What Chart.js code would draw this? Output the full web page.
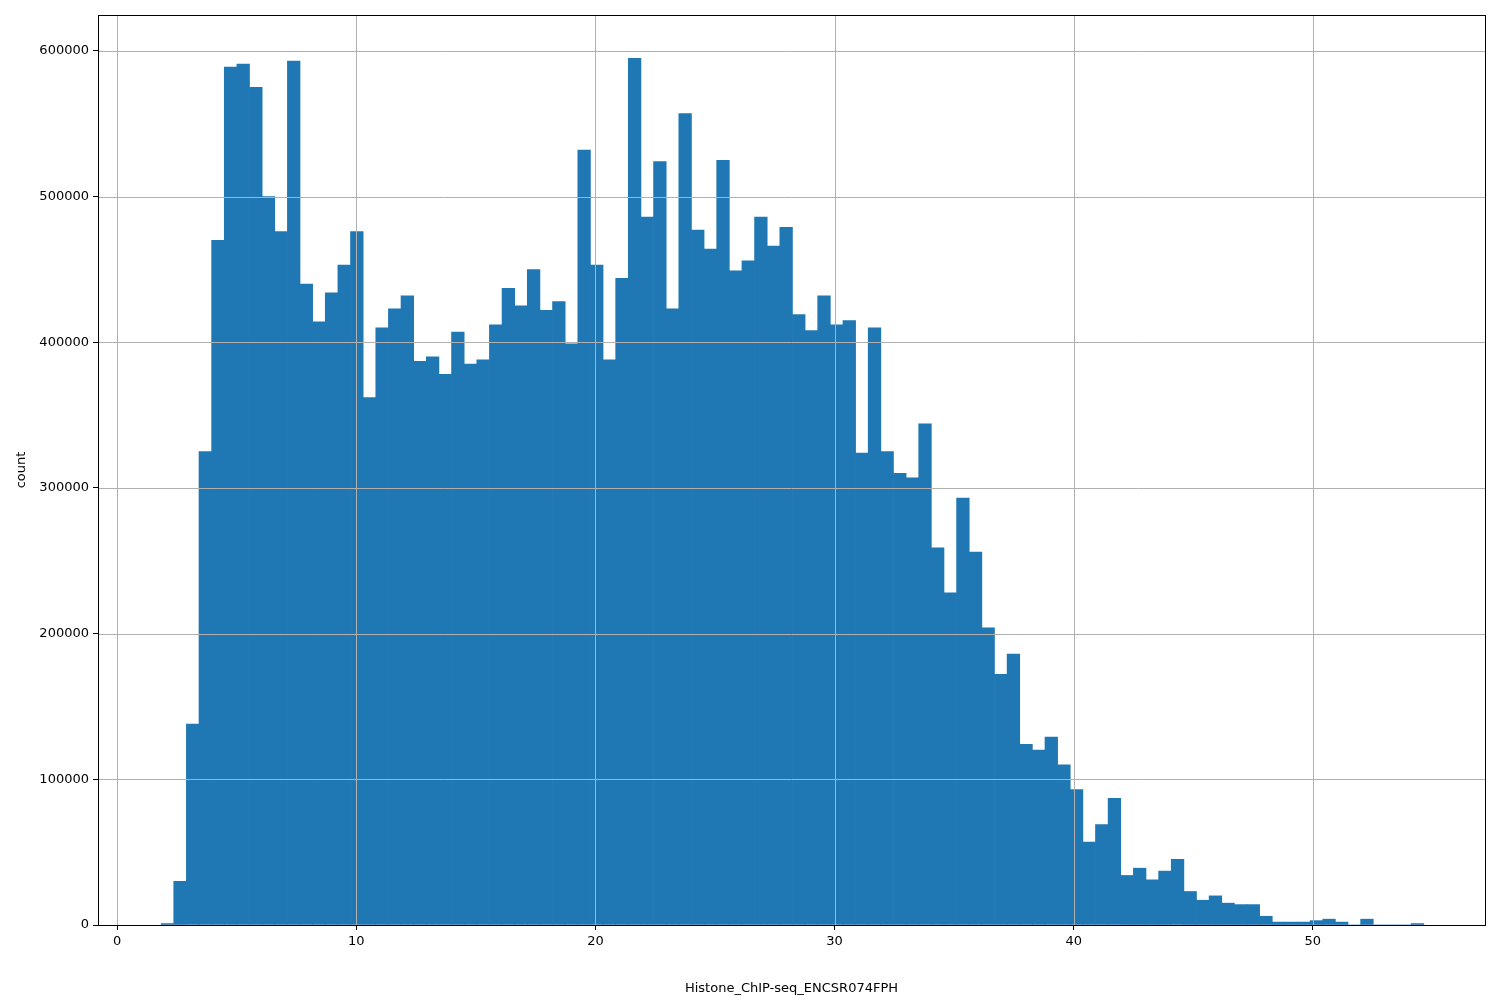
<!DOCTYPE html>
<html><head><meta charset="utf-8">
<script src="https://cdn.jsdelivr.net/npm/chart.js@4.4.1/dist/chart.umd.min.js"></script>
<style>html,body{margin:0;padding:0;background:#fff}#w{width:1500px;height:1000px}</style>
</head><body><div id="w"><canvas id="c"></canvas></div>
<script>
const binStart = 1.84;
const binWidth = 0.528;
const counts = [1000,30000,138000,325000,470000,589000,591000,575000,500000,476000,
593000,440000,414000,434000,453000,476000,362000,410000,423000,432000,
387000,390000,378000,407000,385000,388000,412000,437000,425000,450000,
422000,428000,399000,532000,453000,388000,444000,595000,486000,524000,
423000,557000,477000,464000,525000,449000,456000,486000,466000,479000,
419000,408000,432000,412000,415000,324000,410000,325000,310000,307000,
344000,259000,228000,293000,256000,204000,172000,186000,124000,120000,
129000,110000,93000,57000,69000,87000,34000,39000,31000,37000,
45000,23000,17000,20000,15000,14000,14000,6000,2000,2000,
2000,3000,4000,2000,0,4000,0,0,0,1000];
const xTicks = [0,10,20,30,40,50];
const yTicks = [0,100000,200000,300000,400000,500000,600000];
const xLabel = 'Histone_ChIP-seq_ENCSR074FPH';
const yLabel = 'count';
const data = counts.map((v,i)=>({x: binStart + binWidth*(i+0.5), y: v}));
const frame = {id:'frame', afterDatasetsDraw(ch){
  const a=ch.chartArea,c=ch.ctx,xs=ch.scales.x,ys=ch.scales.y;
  c.save();c.strokeStyle='#b0b0b0';c.lineWidth=1;c.beginPath();
  xTicks.forEach(v=>{const p=Math.round(xs.getPixelForValue(v))+0.5;c.moveTo(p,a.top);c.lineTo(p,a.bottom);});
  yTicks.forEach(v=>{const p=Math.round(ys.getPixelForValue(v))+0.5;c.moveTo(a.left,p);c.lineTo(a.right,p);});
  c.stroke();
  c.strokeStyle='#000';c.strokeRect(a.left+0.5,a.top+0.5,a.right-a.left,a.bottom-a.top);c.restore();}};
Chart.defaults.font.family = 'DejaVu Sans';
Chart.defaults.font.size = 13;
Chart.defaults.color = '#000';
new Chart(document.getElementById('c'), {
  type: 'bar',
  data: {datasets: [{data, backgroundColor: '#1f77b4', barPercentage: 1, categoryPercentage: 1, borderWidth: 0}]},
  options: {
    responsive: true, maintainAspectRatio: false, animation: false,
    layout: {padding: {left: 10, right: 15, top: 15, bottom: 0}},
    plugins: {legend: {display: false}, tooltip: {enabled: false}},
    scales: {
      x: {type: 'linear', min: -0.8, max: 57.2, offset: false,
        afterBuildTicks(s){s.ticks = xTicks.map(v=>({value:v}));},
        ticks: {padding: 4, maxRotation: 0, autoSkip: false},
        grid: {offset: false, drawOnChartArea: false, tickColor: '#000', tickLength: 5},
        border: {color: '#000'},
        title: {display: true, text: xLabel, padding: {top: 14}},
        afterFit(s){s.height = 75;}},
      y: {min: 0, max: 624700,
        afterBuildTicks(s){s.ticks = yTicks.map(v=>({value:v}));},
        ticks: {padding: 4, autoSkip: false, callback: v => String(v)},
        grid: {drawOnChartArea: false, tickColor: '#000', tickLength: 5},
        border: {color: '#000'},
        title: {display: true, text: yLabel, padding: {bottom: 8}},
        afterFit(s){s.width = 88;}}
    }
  },
  plugins: [frame]
});
</script></body></html>
